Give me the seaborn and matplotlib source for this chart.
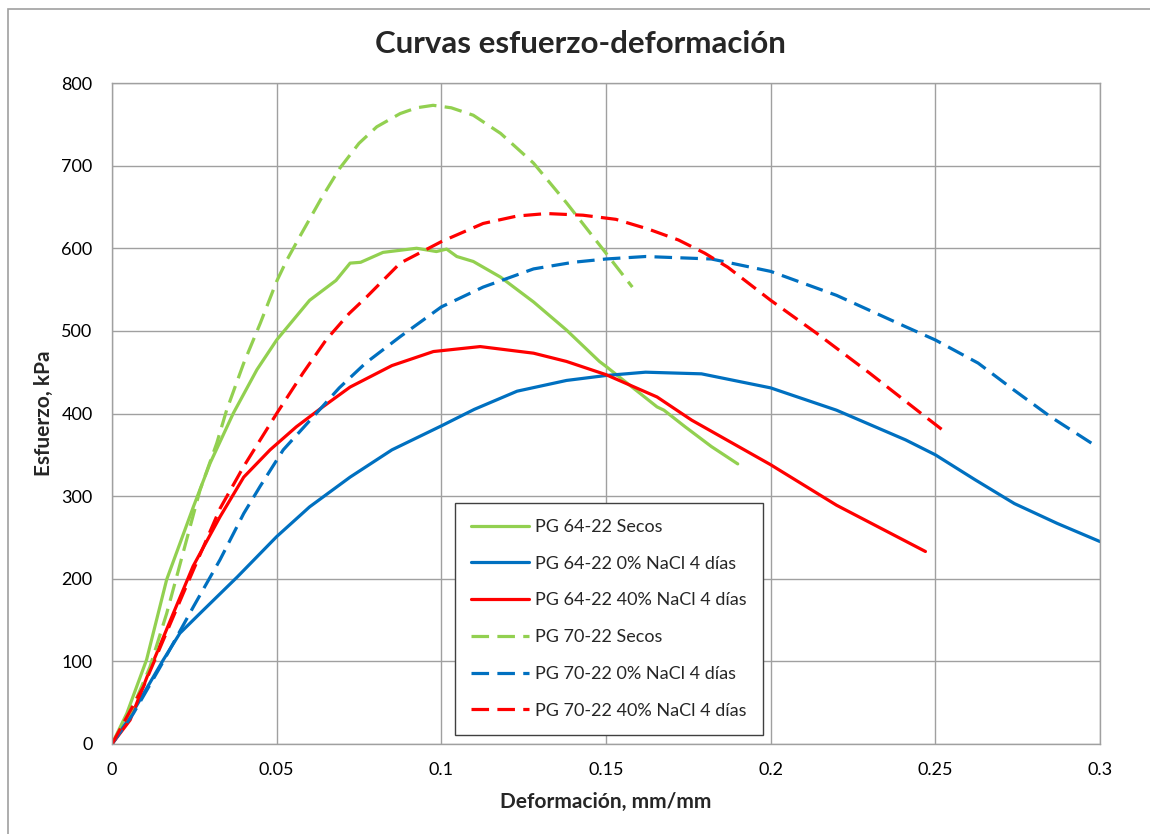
import matplotlib
matplotlib.use("Agg")
import matplotlib.pyplot as plt
from matplotlib.patches import Rectangle
import seaborn as sns
import pandas as pd

# ---- data ----
labels = [
    "PG 64-22 Secos",
    "PG 64-22 0% NaCl 4 días",
    "PG 64-22 40% NaCl 4 días",
    "PG 70-22 Secos",
    "PG 70-22 0% NaCl 4 días",
    "PG 70-22 40% NaCl 4 días",
]

x_64_secos = [0, 0.0045, 0.0105, 0.0166, 0.0247, 0.0298, 0.0368, 0.044, 0.05, 0.06, 0.068,
              0.0723, 0.0755, 0.0823, 0.0925, 0.0985, 0.1016, 0.1047, 0.1097, 0.118, 0.128,
              0.138, 0.148, 0.15, 0.1655, 0.1676, 0.174, 0.182, 0.19]
y_64_secos = [0, 37, 102, 199, 287, 340, 400, 453, 489, 537, 561,
              582, 583, 595, 600, 596, 599, 590, 584, 565, 535,
              501, 463, 457, 408, 404, 384, 360, 339]

x_64_0 = [0, 0.0055, 0.0156, 0.0206, 0.0267, 0.038, 0.05, 0.06, 0.0723, 0.085, 0.1, 0.11,
          0.123, 0.138, 0.15, 0.162, 0.179, 0.2, 0.22, 0.241, 0.25, 0.262, 0.274, 0.287, 0.3]
y_64_0 = [0, 33, 102, 134, 158, 202, 251, 287, 323, 356, 385, 405,
          427, 440, 446, 450, 448, 431, 404, 368, 350, 320, 291, 267, 245]

x_64_40 = [0, 0.0055, 0.0115, 0.0186, 0.0246, 0.0328, 0.040, 0.048, 0.056, 0.064, 0.0723,
           0.085, 0.0976, 0.1118, 0.128, 0.138, 0.15, 0.1655, 0.176, 0.2, 0.22, 0.247]
y_64_40 = [0, 29, 90, 158, 215, 275, 323, 356, 384, 408, 432,
           458, 475, 481, 473, 463, 447, 420, 392, 338, 289, 233]

x_70_secos = [0, 0.0055, 0.0115, 0.0166, 0.0196, 0.0267, 0.0318, 0.0348, 0.040, 0.045, 0.05,
              0.053, 0.057, 0.0635, 0.0692, 0.075, 0.0804, 0.0875, 0.0925, 0.0975, 0.103,
              0.1097, 0.118, 0.128, 0.138, 0.15, 0.158]
y_70_secos = [0, 37, 93, 158, 202, 307, 364, 404, 461, 509, 560,
              585, 614, 660, 697, 727, 747, 763, 770, 773, 770,
              761, 739, 703, 655, 594, 553]

x_70_0 = [0, 0.0065, 0.0146, 0.0247, 0.0328, 0.040, 0.045, 0.052, 0.062, 0.069, 0.077,
          0.0875, 0.1, 0.1127, 0.128, 0.14, 0.15, 0.162, 0.182, 0.2, 0.22, 0.241, 0.25,
          0.263, 0.274, 0.285, 0.299]
y_70_0 = [0, 37, 93, 166, 223, 279, 312, 356, 400, 431, 461,
          493, 529, 553, 575, 583, 587, 590, 587, 572, 543, 505, 489,
          461, 428, 396, 360]

x_70_40 = [0, 0.0095, 0.0156, 0.0216, 0.0328, 0.040, 0.05, 0.058, 0.065, 0.072, 0.0773,
           0.0875, 0.1, 0.1127, 0.123, 0.132, 0.143, 0.153, 0.163, 0.172, 0.18, 0.187,
           0.2, 0.214, 0.23, 0.247, 0.2535]
y_70_40 = [0, 69, 126, 182, 285, 336, 400, 449, 489, 521, 541,
           582, 608, 630, 639, 642, 640, 635, 623, 610, 594, 577,
           537, 497, 449, 396, 376]

xticks = [0, 0.05, 0.1, 0.15, 0.2, 0.25, 0.3]
xtick_labels = ["0", "0.05", "0.1", "0.15", "0.2", "0.25", "0.3"]
yticks = [0, 100, 200, 300, 400, 500, 600, 700, 800]

series_x = [x_64_secos, x_64_0, x_64_40, x_70_secos, x_70_0, x_70_40]
series_y = [y_64_secos, y_64_0, y_64_40, y_70_secos, y_70_0, y_70_40]

# ---- style ----
sns.set_theme(style="white")
plt.rcParams["font.family"] = ["Lato", "DejaVu Sans"]

GREEN = "#92D050"
BLUE = "#0070C0"
RED = "#FF0000"
colors = [GREEN, BLUE, RED, GREEN, BLUE, RED]
dash = (0, (5.5, 2.6))
styles = ["-", "-", "-", dash, dash, dash]

fig = plt.figure(figsize=(11.5, 8.34), dpi=100)
ax = fig.add_axes([112 / 1150, 1 - 744 / 834, (1100 - 112) / 1150, (744 - 83) / 834])

for xs, ys, lab, c, ls in zip(series_x, series_y, labels, colors, styles):
    df = pd.DataFrame({"x": xs, "y": ys})
    sns.lineplot(data=df, x="x", y="y", ax=ax, color=c, linestyle=ls,
                 linewidth=2.3, label=lab, sort=False, estimator=None)

ax.set_xlim(0, 0.3)
ax.set_ylim(0, 800)
ax.set_xticks(xticks)
ax.set_xticklabels(xtick_labels)
ax.set_yticks(yticks)
ax.grid(True, color="#a0a0a0", linewidth=1.0)
ax.set_axisbelow(True)
for sp in ax.spines.values():
    sp.set_color("#a0a0a0")
    sp.set_linewidth(1.0)
ax.tick_params(axis="both", length=0, labelsize=13, colors="black")
ax.tick_params(axis="x", pad=13)
ax.tick_params(axis="y", pad=14)

ax.set_xlabel("Deformación, mm/mm", fontsize=15, fontweight="bold", labelpad=10)
ax.set_ylabel("Esfuerzo, kPa", fontsize=15, fontweight="bold", labelpad=5)
fig.suptitle("Curvas esfuerzo-deformación", x=0.505, y=0.947, va="center",
             fontsize=22.5, fontweight="bold")

leg = ax.legend(loc="lower left", bbox_to_anchor=(0.347, 0.0136), borderaxespad=0,
                fontsize=13, frameon=True, fancybox=False, edgecolor="#404040",
                labelspacing=1.15, handlelength=3.2, handletextpad=0.35,
                borderpad=0.9, framealpha=1)
leg.get_frame().set_linewidth(1.0)

# outer chart border (left and top visible)
fig.add_artist(Rectangle((8 / 1150, -0.2), 2.0, 1 - 9 / 834 + 0.2,
                         transform=fig.transFigure, fill=False,
                         edgecolor="#a0a0a0", linewidth=1.2, clip_on=False))

fig.savefig("out.png", dpi=100)
